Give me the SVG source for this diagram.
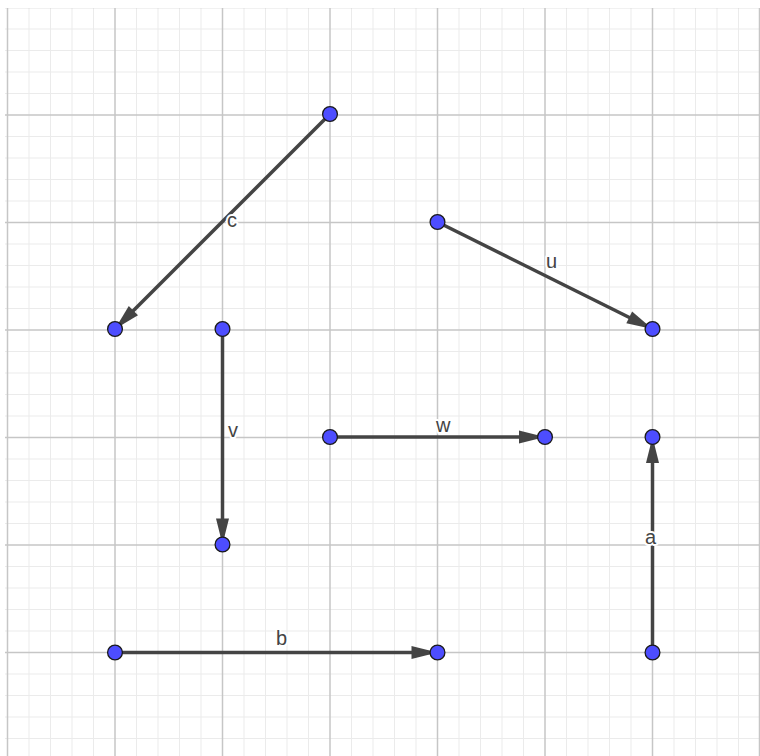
<svg xmlns="http://www.w3.org/2000/svg" width="760" height="756" viewBox="0 0 760 756">
<style>
.minor{stroke:#ebebeb;stroke-width:1;fill:none}
.major{stroke:#c6c6c6;stroke-width:1.5;fill:none}
.vec{stroke:#444;stroke-width:3.5;fill:none;marker-end:url(#ah)}
.pt{fill:#4d4dff;stroke:#1a1a1a;stroke-width:1.3}
.lbl{font-family:"Liberation Sans",Arial,sans-serif;font-size:20px;fill:#444;stroke:#fff;stroke-width:4;paint-order:stroke;stroke-linejoin:round}
</style>
<defs>
<marker id="ah" markerUnits="userSpaceOnUse" markerWidth="30" markerHeight="16" viewBox="-27 -8 30 16" refX="0" refY="0" orient="auto">
<path d="M0,0 L-26,-6.5 L-26,6.5 Z" fill="#444"/>
</marker>
<clipPath id="view"><rect x="5" y="8" width="755" height="748"/></clipPath>
</defs>
<rect width="760" height="756" fill="#fff"/>
<g id="grid" clip-path="url(#view)">
<path class="minor" d="M29,0V756M50.5,0V756M72,0V756M93.5,0V756M136.5,0V756M158,0V756M179.5,0V756M201,0V756M244,0V756M265.5,0V756M287,0V756M308.5,0V756M351.5,0V756M373,0V756M394.5,0V756M416,0V756M459,0V756M480.5,0V756M502,0V756M523.5,0V756M566.5,0V756M588,0V756M609.5,0V756M631,0V756M674,0V756M695.5,0V756M717,0V756M738.5,0V756
M0,29H760M0,50.5H760M0,72H760M0,93.5H760M0,136.5H760M0,158H760M0,179.5H760M0,201H760M0,244H760M0,265.5H760M0,287H760M0,308.5H760M0,351.5H760M0,373H760M0,394.5H760M0,416H760M0,459H760M0,480.5H760M0,502H760M0,523.5H760M0,566.5H760M0,588H760M0,609.5H760M0,631H760M0,674H760M0,695.5H760M0,717H760M0,738.5H760"/>
<path class="major" d="M7.5,0V756M115,0V756M222.5,0V756M330,0V756M437.5,0V756M545,0V756M652.5,0V756M759.5,0V756
M0,7.5H760M0,115H760M0,222.5H760M0,330H760M0,437.5H760M0,545H760M0,652.5H760"/>
</g>
<g id="connectors">
<line id="c" class="vec" x1="330" y1="114" x2="115" y2="329"/>
<line id="u" class="vec" x1="437.5" y1="222" x2="652.5" y2="329"/>
<line id="v" class="vec" x1="222.5" y1="329" x2="222.5" y2="544.5"/>
<line id="w" class="vec" x1="330" y1="437" x2="545" y2="437"/>
<line id="a" class="vec" x1="652.5" y1="652.5" x2="652.5" y2="437"/>
<line id="b" class="vec" x1="115" y1="652.5" x2="437.5" y2="652.5"/>
</g>
<g id="labels">
<text class="lbl" x="227" y="227">c</text>
<text class="lbl" x="546" y="268">u</text>
<text class="lbl" x="228" y="437">v</text>
<text class="lbl" x="436" y="432">w</text>
<text class="lbl" x="645" y="544">a</text>
<text class="lbl" x="276" y="645">b</text>
</g>
<g id="points">
<g id="P1"><circle class="pt" cx="330" cy="114" r="7.4"/></g>
<g id="P2"><circle class="pt" cx="115" cy="329" r="7.4"/></g>
<g id="P3"><circle class="pt" cx="437.5" cy="222" r="7.4"/></g>
<g id="P4"><circle class="pt" cx="652.5" cy="329" r="7.4"/></g>
<g id="P5"><circle class="pt" cx="222.5" cy="329" r="7.4"/></g>
<g id="P6"><circle class="pt" cx="222.5" cy="544.5" r="7.4"/></g>
<g id="P7"><circle class="pt" cx="330" cy="437" r="7.4"/></g>
<g id="P8"><circle class="pt" cx="545" cy="437" r="7.4"/></g>
<g id="P9"><circle class="pt" cx="652.5" cy="437" r="7.4"/></g>
<g id="P10"><circle class="pt" cx="652.5" cy="652.5" r="7.4"/></g>
<g id="P11"><circle class="pt" cx="115" cy="652.5" r="7.4"/></g>
<g id="P12"><circle class="pt" cx="437.5" cy="652.5" r="7.4"/></g>
</g>
</svg>
